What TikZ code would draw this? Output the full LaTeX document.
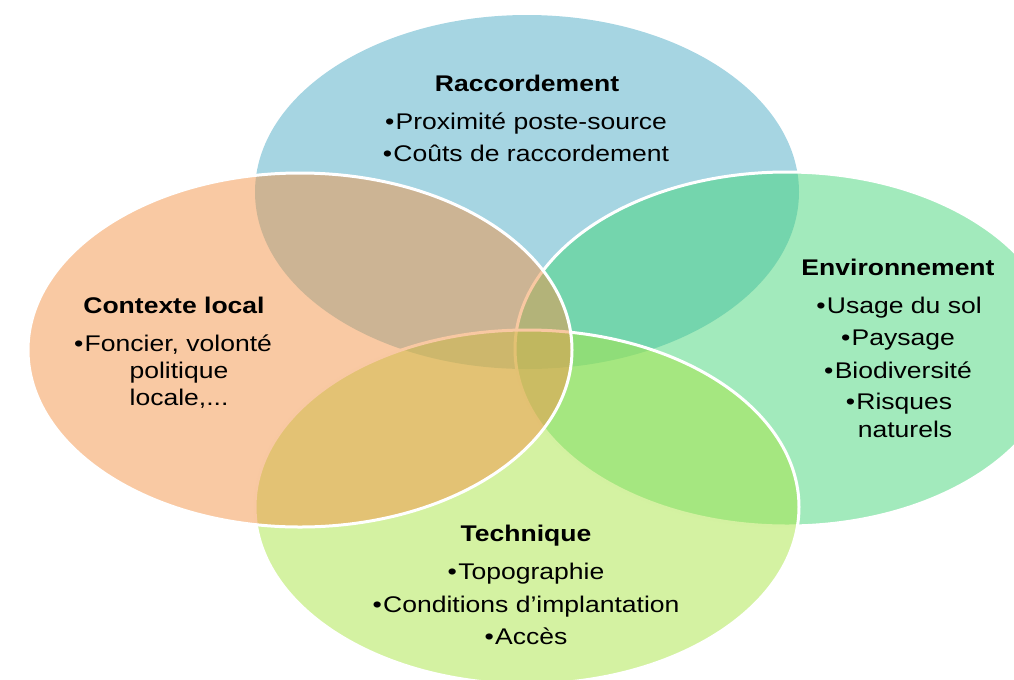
\documentclass[tikz,border=0pt]{standalone}
\usepackage{fontspec}
\setmainfont{Liberation Sans}[FakeStretch=1.17]
\definecolor{cBlue}{RGB}{77,171,197}
\definecolor{cOrange}{RGB}{243,147,71}
\definecolor{cGreen}{RGB}{69,213,121}
\definecolor{cLime}{RGB}{169,229,69}
\newcommand{\bul}{\textbullet\kern1pt}
\tikzset{
  venn/.style={fill opacity=0.5, draw=white, line width=2.25pt},
  lbl/.style={anchor=base, inner sep=0pt, font=\fontsize{17}{20}\selectfont, text=black},
  ttl/.style={lbl, font=\fontsize{17}{20}\selectfont\bfseries},
}
\begin{document}
\begin{tikzpicture}[x=0.75pt,y=-0.75pt]
\useasboundingbox (0,0) rectangle (1014,679);
\clip (0,0) rectangle (1014,679);
% ellipses
\fill[cBlue, fill opacity=0.5] (527,192) ellipse [x radius=204pt, y radius=132.75pt];
\path[venn, fill=cGreen] (787,349) ellipse [x radius=204pt, y radius=132.75pt];
\path[venn, fill=cLime] (527,507) ellipse [x radius=204pt, y radius=132.75pt];
\path[venn, fill=cOrange] (300,350) ellipse [x radius=204pt, y radius=132.75pt];
% top
\node[ttl] (r0) at (527,91) {Raccordement};
\node[lbl] (r1) at (526,129) {\bul Proximité poste-source};
\node[lbl] (r2) at (526,161) {\bul Coûts de raccordement};
% left
\node[ttl] (c0) at (174,313) {Contexte local};
\node[lbl] (c1) at (173,351) {\bul Foncier, volonté};
\node[lbl] (c2) at (179,378) {politique};
\node[lbl] (c3) at (179,405) {locale,...};
% right
\node[ttl] (e0) at (898,275) {Environnement};
\node[lbl] (e1) at (899,313) {\bul Usage du sol};
\node[lbl] (e2) at (898,345) {\bul Paysage};
\node[lbl] (e3) at (898,378) {\bul Biodiversité};
\node[lbl] (e4) at (899,409) {\bul Risques};
\node[lbl] (e5) at (905,437) {naturels};
% bottom
\node[ttl] (t0) at (526,541) {Technique};
\node[lbl] (t1) at (526,579) {\bul Topographie};
\node[lbl] (t2) at (526,612) {\bul Conditions d’implantation};
\node[lbl] (t3) at (526,644) {\bul Accès};
\end{tikzpicture}
\end{document}
